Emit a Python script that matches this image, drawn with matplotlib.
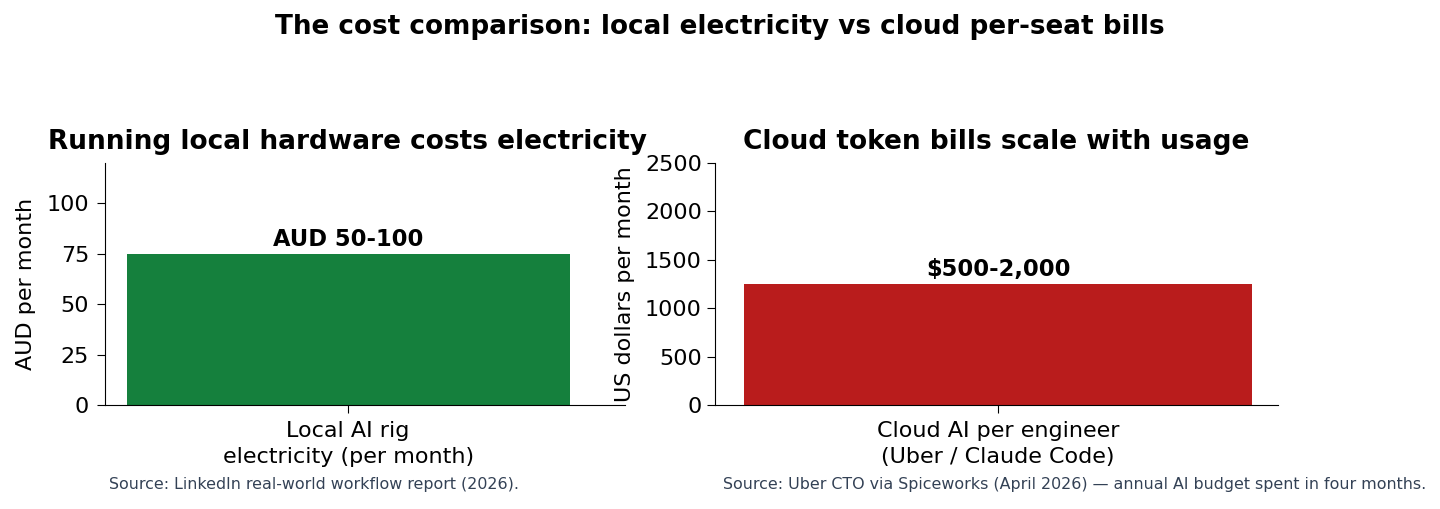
import matplotlib
matplotlib.use("Agg")
import matplotlib.pyplot as plt

# Data
left_categories = ["Local AI rig\nelectricity (per month)"]
left_values = [75]
left_labels = ["AUD 50-100"]
right_categories = ["Cloud AI per engineer\n(Uber / Claude Code)"]
right_values = [1250]
right_labels = ["$500-2,000"]

fig = plt.figure(figsize=(14.4, 5.09), dpi=100)
W, H = 1440, 509

def px_axes(x0, x1, ytop, ybot):
    return fig.add_axes([x0 / W, 1 - ybot / H, (x1 - x0) / W, (ybot - ytop) / H])

ax1 = px_axes(105, 625, 163, 405)
ax2 = px_axes(715, 1278, 163, 405)

green = "#15803d"
red = "#b91c1c"

ax1.bar(left_categories, left_values, width=0.8, color=green)
ax1.set_xlim(-0.439, 0.5)
ax1.set_ylim(0, 120)
ax1.set_yticks([0, 25, 50, 75, 100])
ax1.set_ylabel("AUD per month", fontsize=16, labelpad=7.5)
for i, (v, lab) in enumerate(zip(left_values, left_labels)):
    ax1.text(i, v + 1.5, lab, ha="center", va="bottom", fontsize=16.3, fontweight="bold")
ax1.set_title("Running local hardware costs electricity", fontsize=19, fontweight="bold",
              x=0.467, pad=10)

ax2.bar(right_categories, right_values, width=0.8, color=red)
ax2.set_xlim(-0.446, 0.441)
ax2.set_ylim(0, 2500)
ax2.set_yticks([0, 500, 1000, 1500, 2000, 2500])
ax2.set_ylabel("US dollars per month", fontsize=16, labelpad=7)
for i, (v, lab) in enumerate(zip(right_values, right_labels)):
    ax2.text(i, v + 30, lab, ha="center", va="bottom", fontsize=16.3, fontweight="bold")
ax2.set_title("Cloud token bills scale with usage", fontsize=19, fontweight="bold", pad=10)

for ax in (ax1, ax2):
    ax.spines["top"].set_visible(False)
    ax.spines["right"].set_visible(False)
    ax.tick_params(axis="both", labelsize=16, length=6)
    ax.tick_params(axis="x", pad=5.5)
    for t in ax.get_xticklabels():
        t.set_linespacing(1.4)
ax1.tick_params(axis="y", pad=5.5)

fig.suptitle("The cost comparison: local electricity vs cloud per-seat bills",
             fontsize=18.9, fontweight="bold", y=1 - 27 / H, va="center")

fig.text(109 / W, 1 - 484 / H, "Source: LinkedIn real-world workflow report (2026).",
         fontsize=11.4, color="#334155", ha="left", va="center")
fig.text(723 / W, 1 - 484 / H,
         "Source: Uber CTO via Spiceworks (April 2026) \u2014 annual AI budget spent in four months.",
         fontsize=11.4, color="#334155", ha="left", va="center")

fig.savefig("out.png", dpi=100)
